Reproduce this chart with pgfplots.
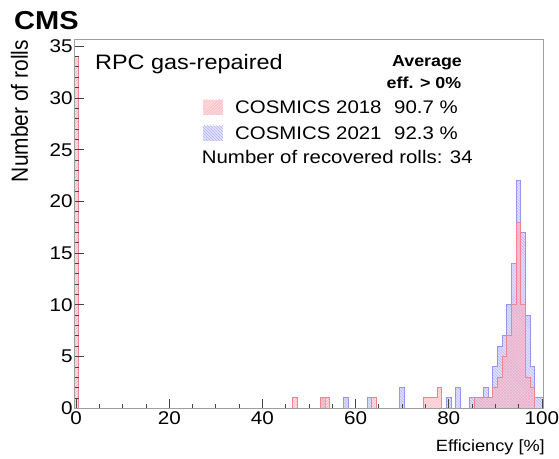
\documentclass[border=0pt]{standalone}
\usepackage{fontspec}
\setmainfont{Liberation Sans}
\usepackage{graphicx}
\usepackage{pgfplots}
\pgfplotsset{compat=1.18}
\usetikzlibrary{patterns}
\newcommand{\W}[1]{\scalebox{1.12}[1]{#1}}
\definecolor{redfill}{RGB}{255,175,185}
\definecolor{redline}{RGB}{245,130,145}
\definecolor{redhatch}{RGB}{250,170,180}
\definecolor{bluefill}{RGB}{180,180,252}
\definecolor{blueline}{RGB}{150,150,240}
\definecolor{bluehatch}{RGB}{175,175,250}

% histograms as steps: (left bin edge, count), 1% bins
\pgfplotstableread{
x y
-0.5 0
52.5 1
53.5 0
57.5 1
58.5 0
62.5 1
63.5 0
69.5 2
70.5 0
79.5 1
80.5 0
81.5 2
82.5 0
84.5 1
87.5 2
88.5 1
89.5 4
90.5 6
91.5 7
92.5 10
93.5 14
94.5 22
95.5 17
96.5 9
97.5 4
98.5 1
100.5 0
}\cosmicsB
\pgfplotstableread{
x y
-0.5 34
0.5 0
46.5 1
47.5 0
52.5 1
54.5 0
63.5 1
64.5 0
74.5 1
77.5 2
78.5 0
85.5 1
89.5 2
90.5 3
91.5 5
92.5 7
93.5 10
94.5 18
95.5 10
96.5 3
97.5 2
98.5 0
100.5 0
}\cosmicsA

\begin{document}
\begin{tikzpicture}
\path[use as bounding box] (-74.7bp,-50.7bp) rectangle (484.3bp,408.3bp);
\begin{axis}[
    scale only axis,
    width=468.6bp, height=368.3bp,
    xmin=-0.3, xmax=100.3,
    ymin=0, ymax=35.6,
    axis on top,
    axis line style={draw=gray!75, line width=1bp},
    tick align=inside,
    xtick={0,20,...,100}, ytick={0,5,...,35},
    minor x tick num=3, minor y tick num=4,
    xtick pos=bottom, ytick pos=left,
    major tick length=9.5bp, minor tick length=4.7bp,
    every tick/.style={gray!55!black, line width=0.8bp},
    tick label style={font=\fontsize{18.5}{20}\selectfont},
    xticklabel={\W{\pgfmathprintnumber[assume math mode=true]{\tick}}},
    yticklabel={\W{\pgfmathprintnumber[assume math mode=true]{\tick}}},
    yticklabel style={inner sep=2bp},
]
\addplot[const plot mark left, draw=blueline, line width=1bp,
    fill=bluefill, fill opacity=0.4,
    postaction={pattern=north west lines, pattern color=bluehatch}]
    table[x=x, y=y] {\cosmicsB} \closedcycle;
\addplot[const plot mark left, draw=redline, line width=1bp,
    fill=redfill, fill opacity=0.4,
    postaction={pattern=north east lines, pattern color=redhatch}]
    table[x=x, y=y] {\cosmicsA} \closedcycle;
\end{axis}
\begin{scope}[shift={(-74.7bp,408.3bp)}, x=1bp, y=-1bp]
\node[anchor=base west, inner sep=0] at (14,30)
    {\fontsize{26}{28}\selectfont\bfseries\W{CMS}};
\node[anchor=base east, inner sep=0, rotate=90] at (28,40)
    {\fontsize{21}{23}\selectfont\scalebox{1}[1.12]{Number of rolls}};
\node[anchor=base east, inner sep=0] at (545,452)
    {\fontsize{16.3}{18}\selectfont\W{Efficiency [\%]}};
\node[anchor=base west, inner sep=0] at (95,70)
    {\fontsize{21}{23}\selectfont\W{RPC gas-repaired}};
\node[anchor=base, inner sep=0] at (427,66.7)
    {\fontsize{16}{18}\selectfont\bfseries\W{Average}};
\node[anchor=base, inner sep=0] at (424,88.3)
    {\fontsize{16}{18}\selectfont\bfseries\W{eff. > 0\%}};
\fill[redfill, fill opacity=0.4, postaction={pattern=north east lines, pattern color=redhatch}]
    (203,100) rectangle (223,115);
\fill[bluefill, fill opacity=0.4, postaction={pattern=north west lines, pattern color=bluehatch}]
    (203,126) rectangle (223,141);
\node[anchor=base west, inner sep=0] at (235,114)
    {\fontsize{18.3}{20}\selectfont\W{COSMICS 2018}};
\node[anchor=base west, inner sep=0] at (394,114)
    {\fontsize{18.3}{20}\selectfont\W{90.7 \%}};
\node[anchor=base west, inner sep=0] at (235,140)
    {\fontsize{18.3}{20}\selectfont\W{COSMICS 2021}};
\node[anchor=base west, inner sep=0] at (394,140)
    {\fontsize{18.3}{20}\selectfont\W{92.3 \%}};
\node[anchor=base west, inner sep=0] at (201.7,163.5)
    {\fontsize{18.3}{20}\selectfont\W{Number of recovered rolls: 34}};
\end{scope}
\end{tikzpicture}
\end{document}
